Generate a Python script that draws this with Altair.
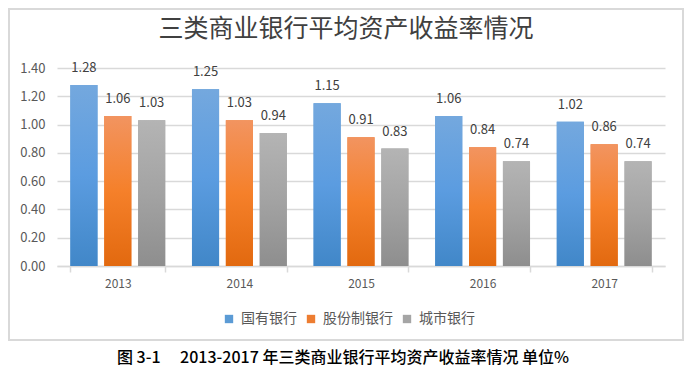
import altair as alt
import pandas as pd

# ---- data ----
years = ["2013", "2014", "2015", "2016", "2017"]
series = ["国有银行", "股份制银行", "城市银行"]
state_banks = [1.28, 1.25, 1.15, 1.06, 1.02]
joint_banks = [1.06, 1.03, 0.91, 0.84, 0.86]
city_banks = [1.03, 0.94, 0.83, 0.74, 0.74]
y_ticks = [0.0, 0.2, 0.4, 0.6, 0.8, 1.0, 1.2, 1.4]
title_text = "三类商业银行平均资产收益率情况"
caption_text = "图\u00a03-1\u3000\u00a02013-2017\u00a0年三类商业银行平均资产收益率情况\u00a0单位%"

solid_colors = ["#5b9bd5", "#ed7d31", "#a5a5a5"]
grad_stops = [
    ("#74a8de", "#5b9ce0", "#4187c8"),
    ("#f29460", "#f5802a", "#e2690f"),
    ("#b4b4b4", "#a3a3a3", "#8e8e8e"),
]

rows = []
for name, vals in zip(series, [state_banks, joint_banks, city_banks]):
    for y, v in zip(years, vals):
        rows.append({"year": y, "bank": name, "value": v})
df = pd.DataFrame(rows)

W, H = 608, 198
PAD_L, PAD_T = 49, 60
TOTAL_W, TOTAL_H = 676, 362

FONT = "Noto Sans CJK SC"

x_enc = alt.X(
    "year:N",
    sort=years,
    scale=alt.Scale(paddingInner=0.22, paddingOuter=0.11),
    axis=alt.Axis(
        title=None,
        labelAngle=0,
        labelFontSize=12,
        labelColor="#595959",
        labelFont=FONT,
        domainColor="#d9d9d9",
        domainWidth=1.5,
        tickColor="#d9d9d9",
        tickWidth=1.5,
        tickSize=6,
        tickBand="extent",
        labelPadding=6,
        grid=False,
    ),
)
xoff_enc = alt.XOffset(
    "bank:N",
    sort=series,
    scale=alt.Scale(domain=series, paddingInner=0.2, paddingOuter=0),
)
y_enc = alt.Y(
    "value:Q",
    scale=alt.Scale(domain=[0, 1.4], nice=False),
    axis=alt.Axis(
        title=None,
        values=y_ticks,
        format=".2f",
        labelFontSize=13,
        labelColor="#595959",
        labelFont=FONT,
        labelPadding=12,
        domain=False,
        ticks=False,
        gridColor="#d9d9d9",
        gridWidth=1.5,
    ),
)

base = alt.Chart(df)

solid = base.mark_bar().encode(
    x=x_enc,
    xOffset=xoff_enc,
    y=y_enc,
    color=alt.Color(
        "bank:N",
        sort=series,
        scale=alt.Scale(domain=series, range=solid_colors),
        legend=alt.Legend(
            title=None,
            orient="none",
            direction="horizontal",
            legendX=165,
            legendY=244,
            symbolType="square",
            symbolSize=70,
            symbolStrokeWidth=0,
            symbolOpacity=1,
            labelFontSize=14,
            labelFont=FONT,
            labelColor="#595959",
            columnPadding=7,
            labelOffset=5,
            padding=0,
        ),
    ),
)

grad_layers = []
for name, (c0, c1, c2) in zip(series, grad_stops):
    grad = alt.Gradient(
        gradient="linear",
        stops=[
            alt.GradientStop(color=c0, offset=0),
            alt.GradientStop(color=c1, offset=0.5),
            alt.GradientStop(color=c2, offset=1),
        ],
        x1=0, x2=0, y1=0, y2=1,
    )
    grad_layers.append(
        base.transform_filter(alt.datum.bank == name)
        .mark_bar(color=grad)
        .encode(x=x_enc, xOffset=xoff_enc, y=y_enc)
    )

labels = base.mark_text(
    baseline="middle", dy=-17, fontSize=13, font=FONT, color="#404040"
).encode(
    x=x_enc,
    xOffset=xoff_enc,
    y=y_enc,
    text=alt.Text("value:Q", format=".2f"),
)

one = pd.DataFrame({"title": [title_text], "caption": [caption_text]})

border = alt.Chart(one).mark_rect(
    fill="transparent", stroke="#d9d9d9", strokeWidth=2
).encode(
    x=alt.value(1 - PAD_L),
    x2=alt.value(TOTAL_W - 1 - PAD_L),
    y=alt.value(1 - PAD_T),
    y2=alt.value(332 - PAD_T),
)

title = alt.Chart(one).mark_text(
    fontSize=25, font=FONT, color="#404040", baseline="middle", align="center"
).encode(
    x=alt.value(338 - PAD_L),
    y=alt.value(21 - PAD_T),
    text="title:N",
)

caption = alt.Chart(one).mark_text(
    fontSize=16, font=FONT, fontWeight=500, color="#000000",
    baseline="middle", align="center"
).encode(
    x=alt.value(335 - PAD_L),
    y=alt.value(350 - PAD_T),
    text="caption:N",
)

chart = alt.layer(border, solid, *grad_layers, labels, title, caption).properties(
    width=W,
    height=H,
    autosize=alt.AutoSizeParams(type="none"),
    padding={"left": PAD_L, "top": PAD_T, "right": TOTAL_W - PAD_L - W, "bottom": TOTAL_H - PAD_T - H},
    background="white",
).configure_view(stroke=None)

chart.save("out.html", embed_options={"renderer": "svg", "actions": False})
